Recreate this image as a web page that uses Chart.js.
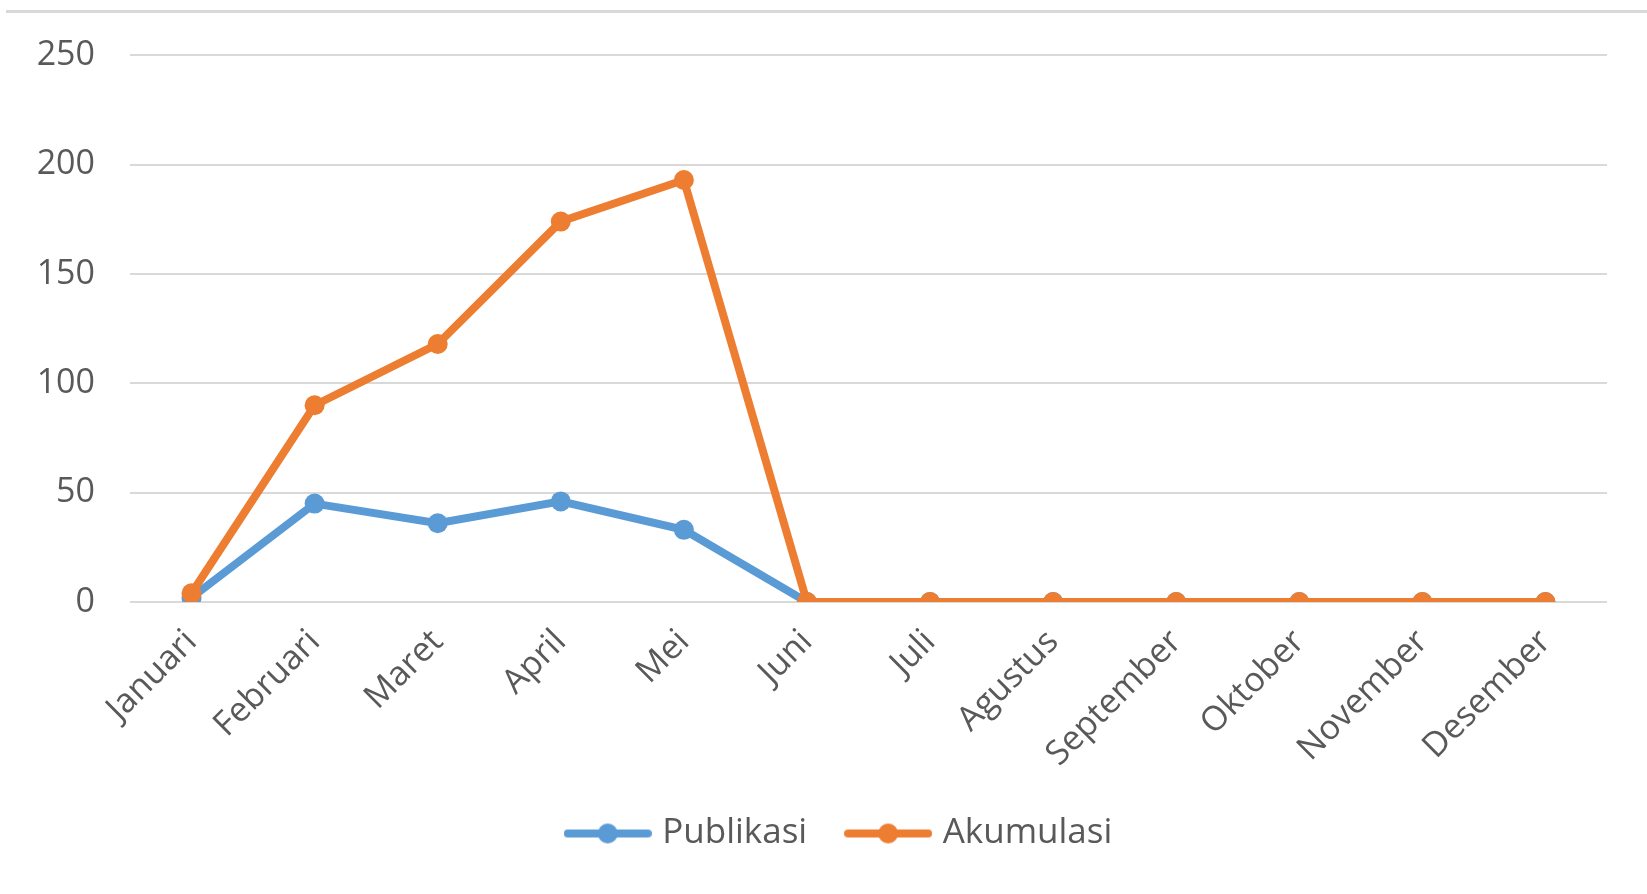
<!DOCTYPE html>
<html>
<head>
<meta charset="utf-8">
<script src="https://cdn.jsdelivr.net/npm/chart.js@4.4.1/dist/chart.umd.min.js"></script>
<style>
  html, body { margin: 0; padding: 0; background: #fff; }
  #wrap { position: relative; width: 1647px; height: 894px; }
  #frame { position: absolute; left: 6px; top: 10px; width: 1641px; border-top: 3px solid #d9d9d9; }
  canvas { position: absolute; left: 0; top: 0; }
</style>
</head>
<body>
<div id="wrap">
  <div id="frame"></div>
  <canvas id="chart" width="1647" height="894"></canvas>
</div>
<script>
const months = ["Januari", "Februari", "Maret", "April", "Mei", "Juni", "Juli", "Agustus", "September", "Oktober", "November", "Desember"];
const publikasi = [2, 45, 36, 46, 33, 0, 0, 0, 0, 0, 0, 0];
const akumulasi = [4, 90, 118, 174, 193, 0, 0, 0, 0, 0, 0, 0];
const yTicks = [0, 50, 100, 150, 200, 250];

const blue = "#5B9BD5";
const orange = "#ED7D31";
const textColor = "#595959";
const font = "'Open Sans'";

// little line + dot marker for the legend, like excel
function legendMark(color) {
  const c = document.createElement("canvas");
  c.width = 88;
  c.height = 24;
  const g = c.getContext("2d");
  g.strokeStyle = color;
  g.lineWidth = 8;
  g.lineCap = "round";
  g.beginPath();
  g.moveTo(4, 12);
  g.lineTo(84, 12);
  g.stroke();
  g.fillStyle = color;
  g.beginPath();
  g.arc(44, 12, 10, 0, Math.PI * 2);
  g.fill();
  return c;
}
const marks = [legendMark(blue), legendMark(orange)];

const ctx = document.getElementById("chart").getContext("2d");
const chart = new Chart(ctx, {
  type: "line",
  data: {
    labels: months,
    datasets: [
      {
        label: "Publikasi",
        data: publikasi,
        borderColor: blue,
        backgroundColor: blue,
        borderWidth: 8,
        pointRadius: 10,
        pointBorderWidth: 0,
        pointHoverRadius: 10,
        order: 1,
      },
      {
        label: "Akumulasi",
        data: akumulasi,
        borderColor: orange,
        backgroundColor: orange,
        borderWidth: 8,
        pointRadius: 10,
        pointBorderWidth: 0,
        pointHoverRadius: 10,
        order: 0,
      },
    ],
  },
  options: {
    responsive: false,
    animation: false,
    layout: {
      padding: { top: 53, left: 36, right: 0, bottom: 33 },
    },
    plugins: {
      tooltip: { enabled: false },
      legend: {
        position: "bottom",
        labels: {
          usePointStyle: true,
          pointStyleWidth: 74,
          padding: 44,
          color: textColor,
          font: { family: font, size: 35 },
          generateLabels: function (chart) {
            const items = Chart.defaults.plugins.legend.labels.generateLabels(chart);
            items.forEach(function (it) {
              it.pointStyle = marks[it.datasetIndex];
            });
            return items;
          },
          sort: function (a, b) {
            return a.datasetIndex - b.datasetIndex;
          },
        },
      },
    },
    scales: {
      x: {
        offset: true,
        grid: { display: false },
        border: { display: false },
        ticks: {
          color: textColor,
          font: { family: font, size: 34 },
          minRotation: 45,
          maxRotation: 45,
          padding: 12,
        },
        afterFit: function (scale) {
          scale.height = 170;
        },
      },
      y: {
        min: 0,
        max: 250,
        afterBuildTicks: function (scale) {
          scale.ticks = yTicks.map(function (v) { return { value: v }; });
        },
        grid: { color: "#d9d9d9", lineWidth: 2, drawTicks: false },
        border: { display: false },
        ticks: {
          color: textColor,
          font: { family: font, size: 34 },
          padding: 35,
        },
        afterFit: function (scale) {
          scale.width = 94;
        },
      },
      // empty strip on the right, keeps the plot off the edge
      yRight: {
        position: "right",
        grid: { display: false },
        border: { display: false },
        ticks: { display: false },
        afterFit: function (scale) {
          scale.width = 40;
        },
      },
    },
  },
});
</script>
</body>
</html>
